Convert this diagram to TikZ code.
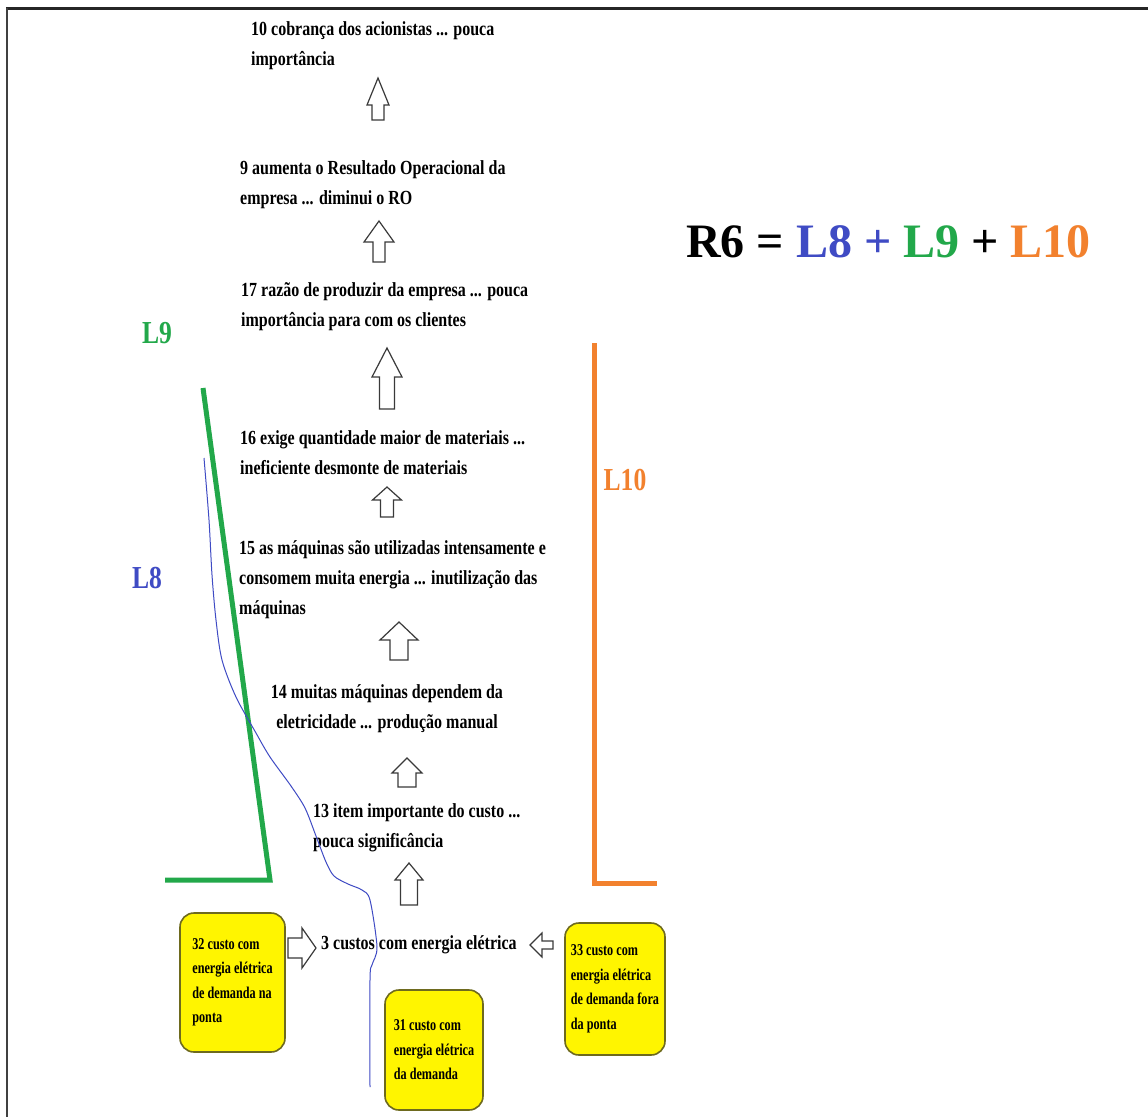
\documentclass[tikz,border=0pt]{standalone}
\usepackage{fontspec}
\setmainfont{Liberation Serif}
\newfontfamily\condserif{Liberation Serif}[FakeStretch=0.8]
\newfontfamily\narrowserif{Liberation Serif}[FakeStretch=0.74]
\definecolor{loopblue}{HTML}{3F4BC4}
\definecolor{loopgreen}{HTML}{22A84A}
\definecolor{looporange}{HTML}{F2812E}
\definecolor{boxyellow}{HTML}{FFF500}
\definecolor{boxedge}{HTML}{6E6A1E}
\definecolor{arrowedge}{HTML}{3A3A3A}

% block arrow pointing up: x, y of tail, y of tip, half head width, half shaft width, y of head base
\newcommand\UpBlock[6]{%
  \draw[blockarrow] (#1-#5,#2) -- (#1-#5,#6) -- (#1-#4,#6) -- (#1,#3)
    -- (#1+#4,#6) -- (#1+#5,#6) -- (#1+#5,#2) -- cycle;}
% block arrow pointing sideways: y, x of tail, x of tip, half head width, half shaft width, x of head base
\newcommand\SideBlock[6]{%
  \draw[blockarrow] (#2,#1-#5) -- (#6,#1-#5) -- (#6,#1-#4) -- (#3,#1)
    -- (#6,#1+#4) -- (#6,#1+#5) -- (#2,#1+#5) -- cycle;}

\begin{document}
\begin{tikzpicture}[x=1pt,y=-1pt,
  maintext/.style={font=\condserif\bfseries\fontsize{20}{30}\selectfont,
    inner sep=0pt, align=left, anchor=north west},
  boxtext/.style={font=\narrowserif\bfseries\fontsize{16.5}{24.5}\selectfont,
    align=left, draw=boxedge, line width=1.6pt, fill=boxyellow,
    rounded corners=14pt, inner sep=0pt},
  looplabel/.style={font=\condserif\bfseries\fontsize{32}{34}\selectfont, inner sep=0pt},
  loopline/.style={line width=5pt},
  blockarrow/.style={draw=arrowedge, line width=1.2pt, fill=white, line join=miter}]

\useasboundingbox (0,0) rectangle (1148,1117);
\fill[white] (0,0) rectangle (1148,1117);

% frame edges
\draw[line width=3pt, black!85] (6,8) -- (1148,8);
\draw[line width=2.5pt, black!75] (7,8) -- (7,1117);

% chain of causes
\node[maintext] (n10) at (251,19) {\rule{0pt}{16pt}10 cobrança dos acionistas ... pouca\\importância};
\node[maintext] (n9) at (240,158) {\rule{0pt}{16pt}9 aumenta o Resultado Operacional da\\empresa ... diminui o RO};
\node[maintext] (n17) at (241,280) {\rule{0pt}{16pt}17 razão de produzir da empresa ... pouca\\importância para com os clientes};
\node[maintext] (n16) at (240,428) {\rule{0pt}{16pt}16 exige quantidade maior de materiais ...\\ineficiente desmonte de materiais};
\node[maintext] (n15) at (239,538) {\rule{0pt}{16pt}15 as máquinas são utilizadas intensamente e\\consomem muita energia ... inutilização das\\máquinas};
\node[maintext, align=center, anchor=north] (n14) at (387,682) {\rule{0pt}{16pt}14 muitas máquinas dependem da\\eletricidade ... produção manual};
\node[maintext] (n13) at (313,801) {\rule{0pt}{16pt}13 item importante do custo ...\\pouca significância};
\node[maintext] (n3) at (321,933) {\rule{0pt}{16pt}3 custos com energia elétrica};

% yellow cost boxes
\node[boxtext, minimum width=105pt, minimum height=139pt] (n32) at (232.5,982.5)
  {32 custo com\\energia elétrica\\de demanda na\\ponta};
\node[boxtext, minimum width=98pt, minimum height=120pt] (n31) at (434,1050)
  {31 custo com\\energia elétrica\\da demanda};
\node[boxtext, minimum width=100pt, minimum height=132pt] (n33) at (615,989)
  {33 custo com\\energia elétrica\\de demanda fora\\da ponta};

% block arrows between the causes
\UpBlock{378}{120}{78}{11}{6}{105}
\UpBlock{379}{262}{221}{15}{6}{242}
\UpBlock{387}{409}{348}{15}{7.5}{377}
\UpBlock{387}{517}{487}{14.5}{6.5}{500}
\UpBlock{399}{660}{622}{19}{9}{640}
\UpBlock{407}{787}{758}{15}{9}{773}
\UpBlock{409}{905}{863}{14}{8.5}{880}
\SideBlock{948}{288}{316}{20}{10}{302}
\SideBlock{945}{553}{530}{12}{4}{542}

% loop L9
\coordinate (g1) at (203,388);
\coordinate (g2) at (270,880);
\coordinate (g3) at (165,880);
\draw[loopline, loopgreen] (g1) -- (g2) -- (g3);
\node[looplabel, text=loopgreen] (lab9) at (157,333) {L9};

% loop L10
\coordinate (o1) at (594,343);
\coordinate (o2) at (594,883);
\coordinate (o3) at (657,883);
\draw[loopline, looporange] (o1) -- (o2) -- (o3);
\node[looplabel, text=looporange] (lab10) at (625,480) {L10};

% loop L8
\draw[loopblue, line width=1pt] plot[smooth, tension=0.5] coordinates {
  (204,458) (209,520) (212,575) (216,620) (222,660) (236,697) (256,733)
  (270,757) (291,786) (305,808) (316,836) (326,862) (334,876) (348,884)
  (362,890) (370,900) (377,947) (372,965) (370,980) (370,1087)};
\node[looplabel, text=loopblue] (lab8) at (147,578) {L8};

% summary equation
\node[anchor=base west, inner sep=0pt, font=\bfseries\fontsize{48}{50}\selectfont] (eq) at (686,257)
  {R6 = \textcolor{loopblue}{L8 +} \textcolor{loopgreen}{L9} + \textcolor{looporange}{L10}};

\end{tikzpicture}
\end{document}
